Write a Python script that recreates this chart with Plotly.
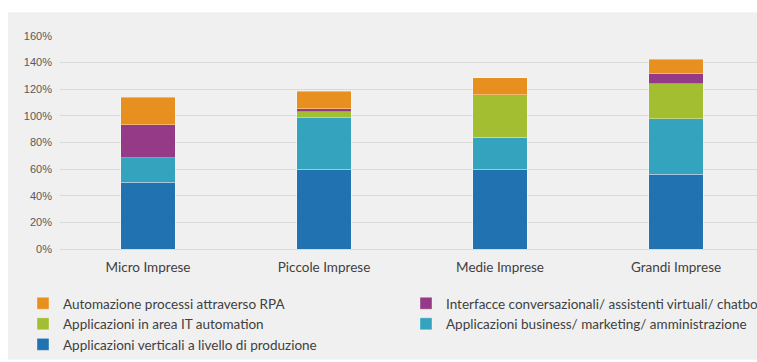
import plotly.graph_objects as go

categories = ["Micro Imprese", "Piccole Imprese", "Medie Imprese", "Grandi Imprese"]

series_names = [
    "Applicazioni verticali a livello di produzione",
    "Applicazioni business/ marketing/ amministrazione",
    "Applicazioni in area IT automation",
    "Interfacce conversazionali/ assistenti virtuali/ chatbot",
    "Automazione processi attraverso RPA",
]
verticali = [50, 60, 60, 56]
business = [18.5, 38.5, 24, 42]
it_automation = [0, 4.5, 32, 26]
interfacce = [25, 2.5, 0, 7.5]
rpa = [20.5, 13, 12.5, 11]
series_values = [verticali, business, it_automation, interfacce, rpa]
series_colors = ["#2072B1", "#34A3BD", "#A3BE30", "#953A87", "#E8901F"]
series_legend = ["legend", "legend2", "legend", "legend2", "legend"]

y_ticks = [0, 20, 40, 60, 80, 100, 120, 140, 160]

fig = go.Figure()
for name, vals, col, lg in zip(series_names, series_values, series_colors, series_legend):
    fig.add_trace(go.Bar(
        x=categories, y=vals, name=name, width=0.31, legend=lg,
        marker=dict(color=col, line=dict(width=0.6, color="rgba(255,255,255,0.6)")),
    ))

legend_font = dict(family="Lato, sans-serif", size=13.5, color="#404040")
fig.update_layout(
    width=757, height=362,
    barmode="stack",
    margin=dict(l=60, r=0, t=36, b=113, autoexpand=False),
    paper_bgcolor="white",
    plot_bgcolor="rgba(0,0,0,0)",
    font=dict(family="Lato, Open Sans, sans-serif", color="#404040"),
    showlegend=True,
    legend=dict(
        orientation="v", traceorder="reversed",
        x=-0.0531, y=-0.183, xanchor="left", yanchor="top",
        font=legend_font, bgcolor="rgba(0,0,0,0)", itemclick=False,
    ),
    legend2=dict(
        orientation="v", traceorder="reversed",
        x=0.4964, y=-0.183, xanchor="left", yanchor="top",
        font=legend_font, bgcolor="rgba(0,0,0,0)", itemclick=False,
    ),
    shapes=[dict(type="rect", xref="paper", yref="paper",
                 x0=-52/697, x1=1.01, y0=-0.52, y1=(249.3-12)/213.6,
                 fillcolor="#F0F0F0", line=dict(width=0), layer="below")],
)
fig.update_xaxes(
    range=[-0.5, 3.46], showgrid=False, showline=False, ticks="",
    tickfont=dict(family="Lato, sans-serif", size=13.5, color="#404040"),
    ticklabelstandoff=8,
)
fig.update_yaxes(
    range=[0, 160], tickvals=y_ticks, ticktext=[f"{v}%" for v in y_ticks],
    showgrid=True, gridcolor="#D9D9D9", gridwidth=1,
    zeroline=True, zerolinecolor="#D9D9D9", zerolinewidth=1,
    showline=False, ticks="",
    tickfont=dict(family="Liberation Sans, Arial, sans-serif", size=11, color="#595959"),
    ticklabelstandoff=7,
)

fig.write_html("out.html")
